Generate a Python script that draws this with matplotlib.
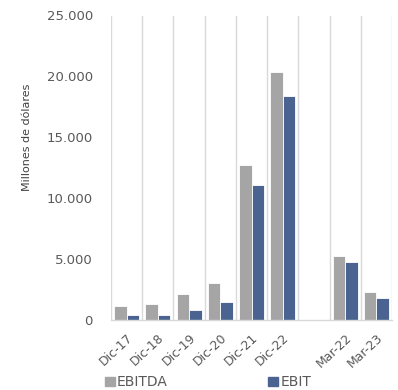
import numpy as np
import matplotlib
matplotlib.use("Agg")
import matplotlib.pyplot as plt
from matplotlib.patches import Patch

# Periods (blank slot separates annual and quarterly figures)
categories = ["Dic-17", "Dic-18", "Dic-19", "Dic-20", "Dic-21", "Dic-22", "", "Mar-22", "Mar-23"]
ebitda = [1150, 1300, 2130, 3030, 12750, 20400, np.nan, 5250, 2320]
ebit = [400, 450, 820, 1450, 11050, 18400, np.nan, 4730, 1800]
yticks = [0, 5000, 10000, 15000, 20000, 25000]
ytick_labels = ["0", "5.000", "10.000", "15.000", "20.000", "25.000"]

plt.rcParams["font.family"] = ["DejaVu Sans"]

GRAY = "#A5A5A5"
BLUE = "#4B6390"
TEXT = "#595959"
GRID = "#D9D9D9"

fig = plt.figure(figsize=(3.98, 3.90), dpi=100)
ax = fig.add_axes([111 / 398, 1 - 320 / 390, (392 - 111) / 398, (320 - 15.5) / 390])

x = np.arange(len(categories))
w = 0.4
ax.bar(x - w / 2, ebitda, width=w, color=GRAY, edgecolor="white", linewidth=0.6, zorder=3)
ax.bar(x + w / 2, ebit, width=w, color=BLUE, edgecolor="white", linewidth=0.6, zorder=3)

ax.set_xlim(-0.5, len(categories) - 0.5)
ax.set_ylim(0, 25000)

ax.set_yticks(yticks)
ax.set_yticklabels(ytick_labels, fontsize=9.5, color=TEXT)
ax.tick_params(axis="y", length=0, pad=13)

ax.set_xticks(x)
ax.set_xticklabels(categories, rotation=43, ha="right", va="top",
                   rotation_mode="anchor", fontsize=9, color=TEXT)
ax.tick_params(axis="x", length=0, pad=8)

# vertical separators between categories
ax.set_xticks(np.arange(-0.5, len(categories)), minor=True)
ax.tick_params(axis="x", which="minor", length=0)
ax.grid(axis="x", which="minor", color=GRID, linewidth=1.0, zorder=0)
ax.grid(axis="y", visible=False)

for side in ["top", "right", "left"]:
    ax.spines[side].set_visible(False)
ax.spines["bottom"].set_color(GRID)
ax.spines["bottom"].set_linewidth(1.0)
ax.spines["bottom"].set_zorder(4)

fig.text(27 / 398, 1 - 137 / 390, "Millones de dólares", rotation=90,
         ha="center", va="center", fontsize=8, color="#404040")

handles = [Patch(color=GRAY, label="EBITDA"), Patch(color=BLUE, label="EBIT")]
fig.legend(handles=handles, loc="center left", bbox_to_anchor=(105 / 398, 1 - 382 / 390),
           ncol=2, frameon=False, fontsize=10, labelcolor=TEXT,
           handlelength=0.7, handleheight=0.6, handletextpad=0.15,
           columnspacing=7.25, borderpad=0, borderaxespad=0)

fig.savefig("out.png", dpi=100)
